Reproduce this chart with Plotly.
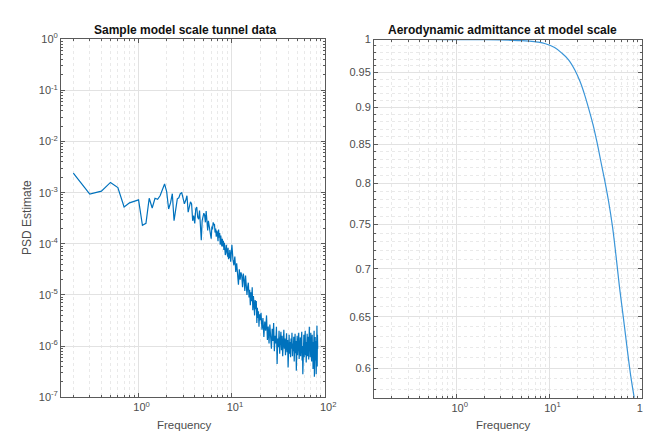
import plotly.graph_objects as go

# ---------------- data ----------------
# Left panel: PSD estimate, log10 values
PSD_FREQ_LOW = [
    0.2, 0.3, 0.4, 0.5, 0.6, 0.7, 0.8, 0.9, 1.0,
    1.1, 1.2, 1.3, 1.4, 1.5, 1.6, 1.7, 1.8, 1.9, 2.0,
    2.1, 2.2, 2.3, 2.4, 2.5, 2.6, 2.7, 2.8, 2.9, 3.0,
    3.1, 3.2, 3.3, 3.4, 3.5, 3.6, 3.7, 3.8, 3.9, 4.0,
    4.1, 4.2, 4.3, 4.4, 4.5, 4.6, 4.7, 4.8, 4.9, 5.0,
    5.1, 5.2, 5.3, 5.4, 5.5, 5.6, 5.7, 5.8, 5.9, 6.0,
    6.1, 6.2, 6.3, 6.4, 6.5, 6.6, 6.7, 6.8, 6.9, 7.0,
    7.1, 7.2, 7.3, 7.4, 7.5, 7.6, 7.7, 7.8, 7.9, 8.0,
    8.1, 8.2, 8.3, 8.4, 8.5, 8.6, 8.7, 8.8, 8.9, 9.0,
    9.1, 9.2, 9.3, 9.4, 9.5, 9.6, 9.7, 9.8, 9.9, 10.0,
]
PSD_LOG_LOW = [
    -2.62, -3.03, -2.97, -2.80, -2.90, -3.28, -3.20, -3.17, -3.14,
    -3.64, -3.60, -3.11, -3.30, -3.11, -3.13, -3.06, -2.95, -2.83, -2.98,
    -3.32, -3.20, -3.02, -3.55, -3.35, -3.12, -3.10, -3.02, -3.00, -3.10,
    -3.22, -3.15, -3.06, -3.38, -3.30, -3.18, -3.22, -3.55, -3.45, -3.60,
    -3.32, -3.28, -3.48, -3.52, -3.35, -3.62, -3.93, -3.55, -3.48, -3.40,
    -3.44, -3.58, -3.36, -3.50, -3.74, -3.55, -3.62, -3.70, -3.82, -3.90,
    -3.66, -3.72, -3.58, -3.64, -3.61, -3.78, -3.70, -3.86, -3.74, -3.80,
    -3.95, -3.72, -3.88, -3.79, -4.02, -3.84, -3.96, -4.05, -3.90, -4.05,
    -3.94, -4.12, -3.98, -4.08, -4.22, -4.18, -4.02, -4.15, -4.10, -4.25,
    -4.08, -4.30, -4.18, -4.28, -4.12, -4.20, -4.35, -4.14, -4.05, -4.02,
]
PSD_FREQ_MID = [
    10.25, 10.5, 10.75, 11.0, 11.25, 11.5, 11.75, 12.0, 12.25, 12.5,
    12.75, 13.0, 13.25, 13.5, 13.75, 14.0, 14.25, 14.5, 14.75, 15.0,
    15.25, 15.5, 15.75, 16.0, 16.25, 16.5, 16.75, 17.0, 17.25, 17.5,
    17.75, 18.0, 18.25, 18.5, 18.75, 19.0, 19.25, 19.5, 19.75, 20.0,
]
PSD_LOG_MID = [
    -4.30, -4.42, -4.25, -4.55, -4.38, -4.62, -4.80, -4.50, -4.70, -4.56,
    -4.62, -4.85, -4.58, -4.70, -4.92, -4.62, -4.78, -5.00, -4.84, -4.76,
    -5.05, -4.90, -5.20, -4.95, -5.12, -4.85, -5.30, -5.02, -5.18, -5.40,
    -5.10, -5.28, -5.12, -5.55, -5.25, -5.45, -5.32, -5.62, -5.38, -5.50,
]
PSD_FREQ_HIGH = [
    20.5, 21.0, 21.5, 22.0, 22.5, 23.0, 23.5, 24.0, 24.5, 25.0,
    25.5, 26.0, 26.5, 27.0, 27.5, 28.0, 28.5, 29.0, 29.5, 30.0,
    30.5, 31.0, 31.5, 32.0, 32.5, 33.0, 33.5, 34.0, 34.5, 35.0,
    35.5, 36.0, 36.5, 37.0, 37.5, 38.0, 38.5, 39.0, 39.5, 40.0,
    40.5, 41.0, 41.5, 42.0, 42.5, 43.0, 43.5, 44.0, 44.5, 45.0,
    45.5, 46.0, 46.5, 47.0, 47.5, 48.0, 48.5, 49.0, 49.5, 50.0,
    50.5, 51.0, 51.5, 52.0, 52.5, 53.0, 53.5, 54.0, 54.5, 55.0,
    55.5, 56.0, 56.5, 57.0, 57.5, 58.0, 58.5, 59.0, 59.5, 60.0,
    60.5, 61.0, 61.5, 62.0, 62.5, 63.0, 63.5, 64.0, 64.5, 65.0,
    65.5, 66.0, 66.5, 67.0, 67.5, 68.0, 68.5, 69.0, 69.5, 70.0,
    70.5, 71.0, 71.5, 72.0, 72.5, 73.0, 73.5, 74.0, 74.5, 75.0,
    75.5, 76.0, 76.5, 77.0, 77.5, 78.0, 78.5, 79.0, 79.5, 80.0,
    80.5, 81.0, 81.5, 82.0, 82.5, 83.0,
]
PSD_LOG_HIGH = [
    -5.35, -5.68, -5.45, -5.82, -5.52, -5.70, -5.40, -5.88, -5.62, -5.95,
    -5.58, -5.78, -6.05, -5.66, -5.90, -5.55, -6.10, -5.80, -5.95, -5.62,
    -6.35, -5.85, -6.02, -5.70, -6.15, -5.88, -5.72, -6.08, -5.80, -6.20,
    -5.90, -5.68, -6.05, -5.85, -6.18, -5.92, -5.75, -6.12, -5.88, -6.42,
    -6.00, -5.78, -6.15, -5.92, -6.22, -5.85, -6.05, -5.74, -6.20, -5.95,
    -6.10, -5.82, -6.30, -5.98, -5.76, -6.14, -5.90, -6.48, -6.02, -5.80,
    -6.18, -5.92, -6.08, -5.74, -6.25, -5.95, -6.12, -5.83, -6.20, -5.90,
    -6.05, -5.72, -6.28, -6.00, -6.55, -5.88, -6.10, -5.78, -6.22, -5.94,
    -6.08, -5.70, -6.18, -5.92, -6.32, -5.85, -6.05, -5.76, -6.20, -5.95,
    -6.12, -5.82, -6.26, -5.90, -5.62, -6.10, -5.85, -6.22, -5.96, -5.74,
    -6.15, -5.88, -6.30, -6.00, -5.78, -6.20, -5.92, -6.45, -6.05, -5.80,
    -6.18, -5.70, -6.60, -5.95, -6.12, -5.82, -6.28, -5.90, -6.05, -6.55,
    -5.85, -6.20, -5.60, -6.40, -5.78, -6.05,
]

# Right panel: aerodynamic admittance
ADM_FREQ = [0.195, 0.5, 1.0, 2.0, 3.0, 4.0, 5.0, 6.03, 7.5, 9.07, 11.38, 13.6,
            16.02, 18.87, 21.47, 24.09, 26.76, 29.5, 32.53, 35.86, 39.54, 43.59,
            48.07, 52.36, 57.04, 62.88, 69.33, 75.53, 82.29]
ADM_VAL = [1.0, 1.0, 0.9999, 0.9996, 0.9992, 0.9988, 0.9983, 0.9975, 0.9960,
           0.9935, 0.9875, 0.9791, 0.9693, 0.9534, 0.9364, 0.9169, 0.8965,
           0.8765, 0.8531, 0.8276, 0.8031, 0.7770, 0.7468, 0.7141, 0.6806,
           0.6485, 0.6171, 0.5924, 0.5730]

# Tick labels
X_TICKS = [1, 10, 100]
X_TICKTEXT = ["10<sup>0</sup>", "10<sup>1</sup>", "10<sup>2</sup>"]
X_MINOR = [0.2, 0.3, 0.4, 0.5, 0.6, 0.7, 0.8, 0.9,
           2, 3, 4, 5, 6, 7, 8, 9, 20, 30, 40, 50, 60, 70, 80, 90]
Y1_TICKS = [1e-7, 1e-6, 1e-5, 1e-4, 1e-3, 1e-2, 1e-1, 1]
Y1_TICKTEXT = ["10<sup>-7</sup>", "10<sup>-6</sup>", "10<sup>-5</sup>", "10<sup>-4</sup>",
               "10<sup>-3</sup>", "10<sup>-2</sup>", "10<sup>-1</sup>", "10<sup>0</sup>"]
Y1_MINOR = [m * 10.0 ** e for e in range(-7, 0) for m in (2, 3, 4, 5, 6, 7, 8, 9)]
Y2_TICKS = [0.6, 0.65, 0.7, 0.75, 0.8, 0.85, 0.9, 0.95, 1.0]
Y2_TICKTEXT = ["0.6", "0.65", "0.7", "0.75", "0.8", "0.85", "0.9", "0.95", "1"]
Y2_MINOR = [0.58, 0.59, 0.61, 0.62, 0.63, 0.64, 0.66, 0.67, 0.68, 0.69,
            0.71, 0.72, 0.73, 0.74, 0.76, 0.77, 0.78, 0.79, 0.81, 0.82, 0.83, 0.84,
            0.86, 0.87, 0.88, 0.89, 0.91, 0.92, 0.93, 0.94, 0.96, 0.97, 0.98, 0.99]

# ---------------- figure ----------------
psd_freq = PSD_FREQ_LOW + PSD_FREQ_MID + PSD_FREQ_HIGH
psd_val = [10 ** v for v in PSD_LOG_LOW + PSD_LOG_MID + PSD_LOG_HIGH]

LINE_COLOR = "#0072BD"
FONT = "Liberation Sans, Arial, Helvetica, sans-serif"
TICK_COLOR = "#4d4d4d"
AXIS_COLOR = "#5a5a5a"
GRID = "#e2e2e2"
MINOR_GRID = "#e9e9e9"

fig = go.Figure()
fig.add_trace(go.Scatter(x=psd_freq, y=psd_val, mode="lines",
                         line=dict(color=LINE_COLOR, width=1.2),
                         xaxis="x", yaxis="y", showlegend=False))
fig.add_trace(go.Scatter(x=ADM_FREQ, y=ADM_VAL, mode="lines",
                         line=dict(color="#3a95d8", width=1.2, shape="spline"),
                         xaxis="x2", yaxis="y2", showlegend=False))


def axis_common(**kw):
    d = dict(
        showline=True, linecolor=AXIS_COLOR, linewidth=1, mirror="ticks",
        ticks="inside", ticklen=4, tickcolor=AXIS_COLOR, tickwidth=1,
        showgrid=True, gridcolor=GRID, gridwidth=1, zeroline=False,
        tickfont=dict(family=FONT, size=11, color=TICK_COLOR),
        tickmode="array",
    )
    d.update(kw)
    return d


def minor_x():
    return dict(tickvals=X_MINOR, ticks="inside", ticklen=2, tickcolor=AXIS_COLOR,
                showgrid=True, gridcolor=MINOR_GRID, griddash="dot", gridwidth=1)


fig.update_layout(
    width=651, height=432,
    margin=dict(l=0, r=0, t=0, b=0),
    paper_bgcolor="white", plot_bgcolor="white",
    font=dict(family=FONT),
    xaxis=axis_common(
        type="log", domain=[54 / 651, 322.7 / 651], anchor="y",
        range=[-0.83, 2.0], tickvals=X_TICKS, ticktext=X_TICKTEXT,
        ticklabelshift=3, minor=minor_x(),
    ),
    yaxis=axis_common(
        type="log", domain=[1 - 394 / 432, 1 - 24 / 432], anchor="x",
        range=[-7, 0], tickvals=Y1_TICKS, ticktext=Y1_TICKTEXT,
        minor=dict(tickvals=Y1_MINOR, ticks="inside", ticklen=2, tickcolor=AXIS_COLOR,
                   showgrid=False),
    ),
    xaxis2=axis_common(
        type="log", domain=[372.3 / 651, 645 / 651], anchor="y2",
        range=[-0.892, 2.0], tickvals=X_TICKS, ticktext=X_TICKTEXT,
        ticklabelshift=3, minor=minor_x(),
    ),
    yaxis2=axis_common(
        type="log", domain=[1 - 394.5 / 432, 1 - 24.3 / 432], anchor="x2",
        range=[-0.2418, 0.0], tickvals=Y2_TICKS, ticktext=Y2_TICKTEXT,
        minor=dict(tickvals=Y2_MINOR, ticks="inside", ticklen=2, tickcolor=AXIS_COLOR,
                   showgrid=True, gridcolor=MINOR_GRID, griddash="dot", gridwidth=1),
    ),
    annotations=[
        dict(text="<b>Sample model scale tunnel data</b>", x=180 / 651, y=1 - 14 / 432,
             xref="paper", yref="paper", xanchor="center", yanchor="middle",
             showarrow=False, font=dict(family=FONT, size=12, color="#111111")),
        dict(text="<b>Aerodynamic admittance at model scale</b>", x=503 / 651, y=1 - 14 / 432,
             xref="paper", yref="paper", xanchor="center", yanchor="middle",
             showarrow=False, font=dict(family=FONT, size=12, color="#111111")),
        dict(text="Frequency", x=180 / 651, y=1 - 422.7 / 432,
             xref="paper", yref="paper", xanchor="center", yanchor="middle",
             showarrow=False, font=dict(family=FONT, size=11.5, color=TICK_COLOR)),
        dict(text="Frequency", x=504 / 651, y=1 - 422.7 / 432,
             xref="paper", yref="paper", xanchor="center", yanchor="middle",
             showarrow=False, font=dict(family=FONT, size=11.5, color=TICK_COLOR)),
        dict(text="PSD Estimate", x=20 / 651, y=1 - 208 / 432, textangle=-90,
             xref="paper", yref="paper", xanchor="center", yanchor="middle",
             showarrow=False, font=dict(family=FONT, size=12, color=TICK_COLOR)),
    ],
)

fig.write_html("out.html")
